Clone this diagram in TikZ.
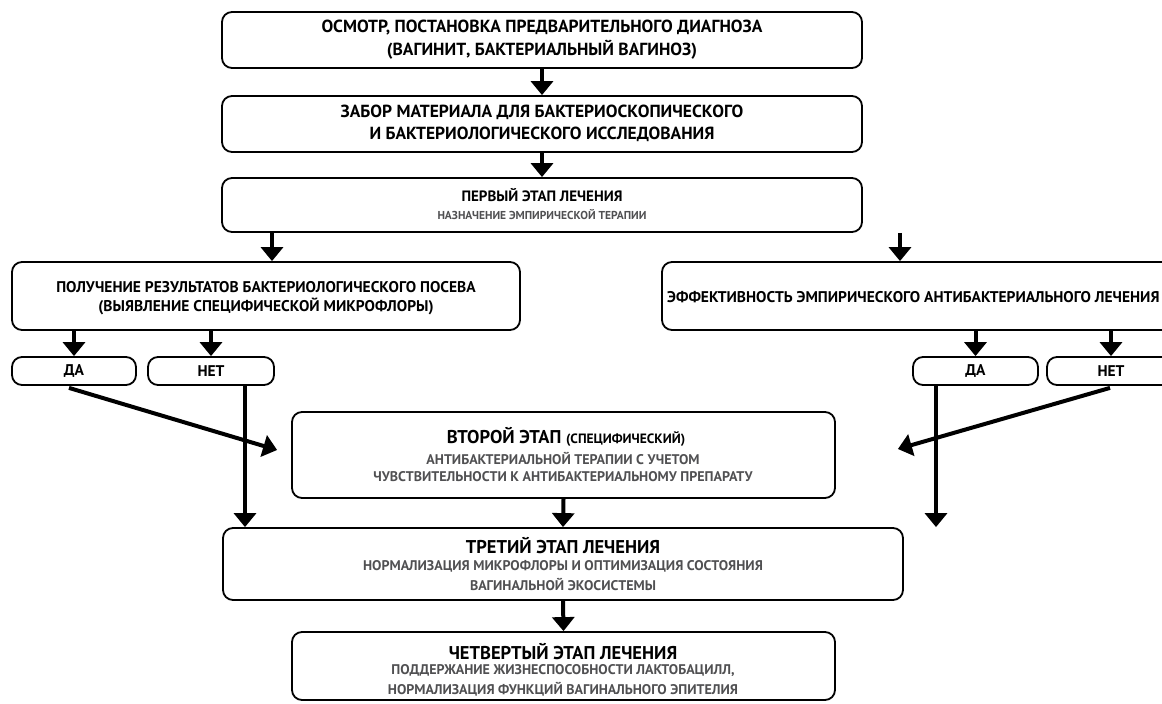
\documentclass[tikz,border=0pt]{standalone}
\usepackage{fontspec}
\setmainfont{PT Sans}
\usetikzlibrary{arrows.meta,calc}
\definecolor{subgray}{HTML}{505052}
\begin{document}
\begin{tikzpicture}[x=1pt,y=-1pt,
  box/.style={draw, rounded corners=10pt, line width=1.8pt, inner sep=0pt, align=center},
  arr/.style={line width=4pt, -{Triangle[width=22pt,length=14pt]}},
  txt/.style={font=\fontsize{17.5}{20}\selectfont\bfseries, align=center, inner sep=0pt},
  sml/.style={font=\fontsize{15.5}{18}\selectfont\bfseries, align=center, inner sep=0pt},
  ttl/.style={font=\fontsize{18.5}{20}\selectfont\bfseries, align=center, inner sep=0pt},
  sub/.style={font=\fontsize{14}{16}\selectfont\bfseries, text=subgray, align=center, inner sep=0pt}]
\useasboundingbox (0,0) rectangle (1162,704);
\clip (0,0) rectangle (1162,704);
% boxes
\node[box, minimum width=640pt, minimum height=56pt] (b1) at (542,40) {};
\node[box, minimum width=640pt, minimum height=56pt] (b2) at (542,124) {};
\node[box, minimum width=640pt, minimum height=54pt] (b3) at (542,205) {};
\node[box, minimum width=508pt, minimum height=68pt] (bl) at (266,296) {};
\node[box, minimum width=518pt, minimum height=68pt] (br) at (921,296) {};
\node[box, minimum width=124pt, minimum height=28pt] (dal) at (74,371) {};
\node[box, minimum width=126pt, minimum height=28pt] (netl) at (211,371) {};
\node[box, minimum width=125pt, minimum height=28pt] (dar) at (975.5,371) {};
\node[box, minimum width=128pt, minimum height=28pt] (netr) at (1111,371) {};
\node[box, minimum width=543pt, minimum height=86pt] (b4) at (563.5,455) {};
\node[box, minimum width=680pt, minimum height=72pt] (b5) at (563,564) {};
\node[box, minimum width=543pt, minimum height=68pt] (b6) at (563.5,666) {};
% texts
\node[txt] (t1a) at (542,28) {ОСМОТР, ПОСТАНОВКА ПРЕДВАРИТЕЛЬНОГО ДИАГНОЗА};
\node[txt] (t1b) at (542,50) {(ВАГИНИТ, БАКТЕРИАЛЬНЫЙ ВАГИНОЗ)};
\node[txt] (t2a) at (542,112) {ЗАБОР МАТЕРИАЛА ДЛЯ БАКТЕРИОСКОПИЧЕСКОГО};
\node[txt] (t2b) at (542,134) {И БАКТЕРИОЛОГИЧЕСКОГО ИССЛЕДОВАНИЯ};
\node[ttl, font=\fontsize{15}{18}\selectfont\bfseries] (t3a) at (542,195) {ПЕРВЫЙ ЭТАП ЛЕЧЕНИЯ};
\node[sub, font=\fontsize{11.5}{13}\selectfont\bfseries] (t3b) at (542,215) {НАЗНАЧЕНИЕ ЭМПИРИЧЕСКОЙ ТЕРАПИИ};
\node[sml] (tla) at (266,287) {ПОЛУЧЕНИЕ РЕЗУЛЬТАТОВ БАКТЕРИОЛОГИЧЕСКОГО ПОСЕВА};
\node[sml] (tlb) at (266,306) {(ВЫЯВЛЕНИЕ СПЕЦИФИЧЕСКОЙ МИКРОФЛОРЫ)};
\node[sml, anchor=west] (tr) at (667,297) {ЭФФЕКТИВНОСТЬ ЭМПИРИЧЕСКОГО АНТИБАКТЕРИАЛЬНОГО ЛЕЧЕНИЯ};
\node[sml] at (dal) {ДА};
\node[sml] at (netl) {НЕТ};
\node[sml] at (dar) {ДА};
\node[sml] at (netr) {НЕТ};
\node[ttl] (t4a) at (566,437) {ВТОРОЙ ЭТАП {\fontsize{13.5}{16}\selectfont (СПЕЦИФИЧЕСКИЙ)}};
\node[sub] (t4b) at (563,458) {АНТИБАКТЕРИАЛЬНОЙ ТЕРАПИИ С УЧЕТОМ};
\node[sub] (t4c) at (563,477) {ЧУВСТВИТЕЛЬНОСТИ К АНТИБАКТЕРИАЛЬНОМУ ПРЕПАРАТУ};
\node[ttl] (t5a) at (563,546) {ТРЕТИЙ ЭТАП ЛЕЧЕНИЯ};
\node[sub] (t5b) at (563,566) {НОРМАЛИЗАЦИЯ МИКРОФЛОРЫ И ОПТИМИЗАЦИЯ СОСТОЯНИЯ};
\node[sub] (t5c) at (563,584) {ВАГИНАЛЬНОЙ ЭКОСИСТЕМЫ};
\node[ttl] (t6a) at (563,652) {ЧЕТВЕРТЫЙ ЭТАП ЛЕЧЕНИЯ};
\node[sub] (t6b) at (563,671) {ПОДДЕРЖАНИЕ ЖИЗНЕСПОСОБНОСТИ ЛАКТОБАЦИЛЛ,};
\node[sub] (t6c) at (563,689) {НОРМАЛИЗАЦИЯ ФУНКЦИЙ ВАГИНАЛЬНОГО ЭПИТЕЛИЯ};
% helper coordinates
\coordinate (c1) at (272,0);
\coordinate (c2) at (900,0);
\coordinate (c3) at (245,0);
\coordinate (c4) at (936,0);
% connectors
\draw[arr] (b1.south) -- (b2.north);
\draw[arr] (b2.south) -- (b3.north);
\draw[arr] (b3.south -| c1) -- (bl.north -| c1);
\draw[arr] (b3.south -| c2) -- (br.north -| c2);
\draw[arr] (bl.south -| dal) -- (dal.north);
\draw[arr] (bl.south -| netl) -- (netl.north);
\draw[arr] (br.south -| dar) -- (dar.north);
\draw[arr] (br.south -| netr) -- (netr.north);
\draw[arr] ($(dal.south)+(-5,2)$) -- ($(b4.west)+(-14,-5)$);
\draw[arr] ($(netr.south)+(-1,2)$) -- ($(b4.east)+(62,-6)$);
\draw[arr] (netl.south -| c3) -- (b5.north -| c3);
\draw[arr] (dar.south -| c4) -- (b5.north -| c4);
\draw[arr] (b4.south) -- (b5.north);
\draw[arr] (b5.south) -- (b6.north);
\end{tikzpicture}
\end{document}
